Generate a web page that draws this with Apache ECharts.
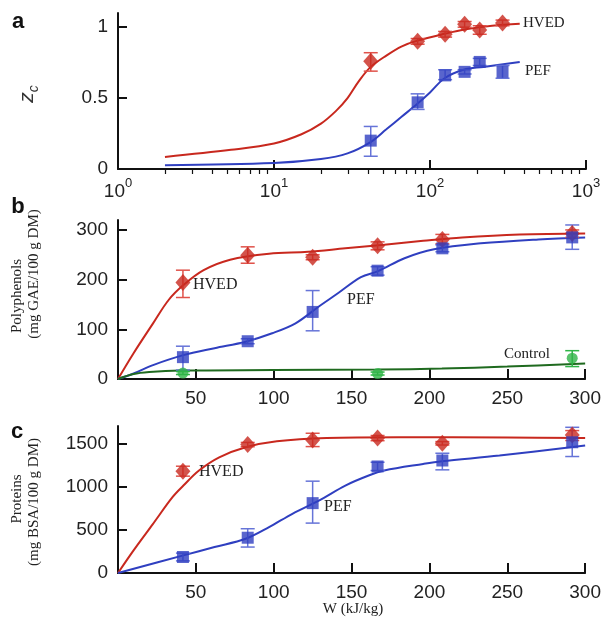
<!DOCTYPE html>
<html>
<head>
<meta charset="utf-8">
<script src="https://cdn.jsdelivr.net/npm/echarts@6/dist/echarts.min.js"></script>
<style>
  html, body { margin: 0; padding: 0; background: #fff; }
  #chart { width: 604px; height: 621px; }
</style>
</head>
<body>
<div id="chart"></div>
<script>
// energy input W (kJ/kg) of the measured points
var W = [41.7, 83.3, 125, 166.7, 208.3, 291.7]
var ctrlW = [41.7, 166.7, 291.7]

// panel a: z_c
var hvedA = [0.76, 0.90, 0.95, 1.02, 0.98, 1.03]
var hvedAErr = [[0.69, 0.82], [0.88, 0.92], [0.93, 0.97], [1.00, 1.04], [0.95, 1.01], [1.01, 1.05]]
var pefA = [0.20, 0.47, 0.66, 0.685, 0.755, 0.685]
var pefAErr = [[0.09, 0.30], [0.42, 0.53], [0.63, 0.70], [0.67, 0.70], [0.73, 0.78], [0.64, 0.73]]
var hvedACurve = [[2, 0.085], [5.3, 0.135], [10, 0.18], [15, 0.245], [20, 0.32], [25, 0.41], [29.6, 0.50], [35, 0.62], [41.7, 0.72], [52.5, 0.80], [66, 0.865], [83, 0.905], [124, 0.953], [170, 0.985], [250, 1.01], [376, 1.025]]
var pefACurve = [[2, 0.026], [10, 0.042], [20, 0.07], [29.6, 0.11], [41.6, 0.19], [52.5, 0.28], [66, 0.37], [83, 0.46], [100, 0.54], [124, 0.64], [164, 0.70], [220, 0.72], [376, 0.755]]

// panel b: polyphenols
var hvedB = [194, 249, 245, 268, 281, 293]
var hvedBErr = [[164, 219], [233, 266], [240, 250], [260, 276], [272, 291], [285, 300]]
var pefB = [44, 76, 135, 218, 263, 285]
var pefBErr = [[18, 66], [71, 81], [97, 178], [209, 226], [256, 270], [261, 310]]
var ctrlB = [12, 11, 42]
var ctrlBErr = [[9, 15], [8, 14], [25, 57]]
var hvedBCurve = [[0, 0], [10, 52], [22.5, 112], [32.5, 159], [42, 189], [55, 219], [72, 240], [97, 252], [122, 256], [146, 263], [171, 270], [196, 278], [221, 285], [258, 291], [300, 293]]
var pefBCurve = [[0, 0], [10, 11], [22.5, 28], [42, 48], [62, 62], [82, 75], [99, 92], [114, 112], [129, 146], [141, 172], [156, 205], [167, 217], [184, 243], [203, 261], [233, 273], [270, 281], [300, 285]]
var ctrlBCurve = [[0, 0], [10, 10], [20, 14], [40, 17], [100, 18], [167, 19], [208, 21], [250, 25], [300, 31]]

// panel c: proteins
var hvedC = [1177, 1485, 1539, 1562, 1500, 1597]
var hvedCErr = [[1120, 1235], [1460, 1510], [1462, 1616], [1530, 1590], [1480, 1520], [1532, 1647]]
var pefC = [185, 408, 808, 1232, 1301, 1512]
var pefCErr = [[140, 230], [300, 512], [577, 1062], [1185, 1281], [1193, 1385], [1347, 1685]]
var hvedCCurve = [[0, 0], [10, 262], [22.5, 569], [35, 877], [42, 1011], [52, 1185], [65, 1338], [82, 1454], [102, 1523], [134, 1561], [180, 1570], [250, 1566], [300, 1561]]
var pefCCurve = [[0, 0], [42, 204], [62, 300], [82, 396], [97, 530], [112, 685], [129, 838], [146, 1011], [161, 1127], [171, 1185], [196, 1261], [208, 1292], [245, 1358], [300, 1475]]

// tick values
var logMajor = [1, 10, 100, 1000]
var logMinor = [2, 3, 4, 5, 6, 7, 8, 9, 20, 30, 40, 50, 60, 70, 80, 90, 200, 300, 400, 500, 600, 700, 800, 900]
var yTicksA = [0, 0.5, 1]
var yTicksB = [0, 100, 200, 300]
var yTicksC = [0, 500, 1000, 1500]
var xTicksW = [50, 100, 150, 200, 250, 300]

var RED = '#c8281e'
var RED_ERR = '#e0524a'
var BLUE = '#2f3fc0'
var BLUE_ERR = '#6674d8'
var GREEN_LINE = '#1f6a1f'
var GREEN = '#2fb447'
var SANS = '"Liberation Sans", Arial, sans-serif'
var SERIF = '"Liberation Serif", "Times New Roman", serif'

function pts(xs, ys) {
  return xs.map(function (x, i) { return [x, ys[i]] })
}
function errs(xs, e) {
  return xs.map(function (x, i) { return [x, e[i][0], e[i][1]] })
}

function errorBar(color) {
  return function (params, api) {
    var top = api.coord([api.value(0), api.value(2)])
    var bot = api.coord([api.value(0), api.value(1)])
    var w = 7
    var st = { stroke: color, lineWidth: 1.5 }
    return {
      type: 'group',
      children: [
        { type: 'line', shape: { x1: top[0], y1: top[1], x2: bot[0], y2: bot[1] }, style: st },
        { type: 'line', shape: { x1: top[0] - w, y1: top[1], x2: top[0] + w, y2: top[1] }, style: st },
        { type: 'line', shape: { x1: bot[0] - w, y1: bot[1], x2: bot[0] + w, y2: bot[1] }, style: st }
      ]
    }
  }
}

function curve(xi, yi, data, color) {
  return {
    type: 'line', xAxisIndex: xi, yAxisIndex: yi, data: data, smooth: 0.35,
    showSymbol: false, silent: true, lineStyle: { color: color, width: 2 }, z: 2
  }
}
function marks(xi, yi, data, symbol, size, color) {
  return {
    type: 'scatter', xAxisIndex: xi, yAxisIndex: yi, data: data,
    symbol: symbol, symbolSize: size, itemStyle: { color: color }, z: 4
  }
}
function bars(xi, yi, data, color) {
  return {
    type: 'custom', xAxisIndex: xi, yAxisIndex: yi, data: data,
    renderItem: errorBar(color), encode: { x: 0, y: [1, 2] }, z: 3
  }
}

var axisLine = { show: true, onZero: false, lineStyle: { color: '#111', width: 2 } }
var tickLabel = { color: '#222', fontFamily: SANS, fontSize: 19 }

function yAxis(gi, max, ticks) {
  return {
    type: 'value', gridIndex: gi, min: 0, max: max,
    axisLine: axisLine,
    axisTick: { show: true, inside: true, length: 9, customValues: ticks, lineStyle: { color: '#111', width: 2 } },
    axisLabel: Object.assign({ customValues: ticks, margin: 10, formatter: function (v) { return String(v) } }, tickLabel),
    splitLine: { show: false }
  }
}
function wAxis(gi) {
  return {
    type: 'value', gridIndex: gi, min: 0, max: 300,
    axisLine: axisLine,
    axisTick: { show: true, inside: true, length: 10, customValues: xTicksW, lineStyle: { color: '#111', width: 2 } },
    axisLabel: Object.assign({ customValues: xTicksW, margin: 10, formatter: function (v) { return String(v) } }, tickLabel),
    splitLine: { show: false }
  }
}

var chart = echarts.init(document.getElementById('chart'), null, { renderer: 'canvas' })

chart.setOption({
  backgroundColor: '#fff',
  animation: false,
  grid: [
    { left: 118, right: 18, top: 13, bottom: 452 },
    { left: 118, right: 17, top: 220, bottom: 242 },
    { left: 118, right: 17, top: 426, bottom: 48 }
  ],
  xAxis: [
    {
      type: 'log', gridIndex: 0, min: 1, max: 1000, logBase: 10,
      axisLine: axisLine,
      axisTick: { show: true, inside: true, length: 9, customValues: logMajor, lineStyle: { color: '#111', width: 2 } },
      axisLabel: {
        customValues: logMajor, margin: 8,
        formatter: function (v) {
          return '{b|10}{s|' + Math.round(Math.log10(v)) + '}'
        },
        rich: {
          b: { fontFamily: SANS, fontSize: 19, color: '#222', lineHeight: 24, verticalAlign: 'bottom' },
          s: { fontFamily: SANS, fontSize: 13, color: '#222', lineHeight: 24, verticalAlign: 'top', padding: [0, 0, 10, 0] }
        }
      },
      splitLine: { show: false }
    },
    {
      type: 'log', gridIndex: 0, min: 1, max: 1000, logBase: 10,
      axisLine: { show: false },
      axisTick: { show: true, inside: true, length: 5, customValues: logMinor, lineStyle: { color: '#111', width: 1.2 } },
      axisLabel: { show: false },
      splitLine: { show: false }
    },
    wAxis(1),
    wAxis(2)
  ],
  yAxis: [
    yAxis(0, 1.1, yTicksA),
    yAxis(1, 320, yTicksB),
    yAxis(2, 1700, yTicksC)
  ],
  series: [
    curve(0, 0, hvedACurve, RED),
    curve(0, 0, pefACurve, BLUE),
    bars(0, 0, errs(W, hvedAErr), RED_ERR),
    bars(0, 0, errs(W, pefAErr), BLUE_ERR),
    marks(0, 0, pts(W, hvedA), 'diamond', [15, 17], RED),
    marks(0, 0, pts(W, pefA), 'rect', 12, BLUE),

    curve(2, 1, hvedBCurve, RED),
    curve(2, 1, pefBCurve, BLUE),
    curve(2, 1, ctrlBCurve, GREEN_LINE),
    bars(2, 1, errs(W, hvedBErr), RED_ERR),
    bars(2, 1, errs(W, pefBErr), BLUE_ERR),
    bars(2, 1, errs(ctrlW, ctrlBErr), GREEN),
    marks(2, 1, pts(W, hvedB), 'diamond', [15, 17], RED),
    marks(2, 1, pts(W, pefB), 'rect', 12, BLUE),
    marks(2, 1, pts(ctrlW, ctrlB), 'circle', 11, GREEN),

    curve(3, 2, hvedCCurve, RED),
    curve(3, 2, pefCCurve, BLUE),
    bars(3, 2, errs(W, hvedCErr), RED_ERR),
    bars(3, 2, errs(W, pefCErr), BLUE_ERR),
    marks(3, 2, pts(W, hvedC), 'diamond', [15, 17], RED),
    marks(3, 2, pts(W, pefC), 'rect', 12, BLUE)
  ],
  graphic: [
    // panel letters
    { type: 'text', x: 18, y: 22, style: { text: 'a', font: 'bold 22px ' + SANS, fill: '#111', align: 'center', verticalAlign: 'middle' } },
    { type: 'text', x: 18, y: 207, style: { text: 'b', font: 'bold 22px ' + SANS, fill: '#111', align: 'center', verticalAlign: 'middle' } },
    { type: 'text', x: 17, y: 432, style: { text: 'c', font: 'bold 22px ' + SANS, fill: '#111', align: 'center', verticalAlign: 'middle' } },
    // y titles
    {
      type: 'text', x: 27, y: 94, rotation: Math.PI / 2,
      style: {
        text: '{z|z}{c|c}', align: 'center', verticalAlign: 'middle',
        rich: {
          z: { font: 'italic 21px ' + SANS, fill: '#333', verticalAlign: 'bottom', lineHeight: 22 },
          c: { font: 'italic 14px ' + SANS, fill: '#333', verticalAlign: 'bottom', lineHeight: 22, padding: [0, 0, -3, 0] }
        }
      }
    },
    { type: 'text', x: 17, y: 296, rotation: Math.PI / 2, style: { text: 'Polyphenols', font: '15px ' + SERIF, fill: '#222', align: 'center', verticalAlign: 'middle' } },
    { type: 'text', x: 34, y: 274, rotation: Math.PI / 2, style: { text: '(mg GAE/100 g DM)', font: '15px ' + SERIF, fill: '#222', align: 'center', verticalAlign: 'middle' } },
    { type: 'text', x: 17, y: 499, rotation: Math.PI / 2, style: { text: 'Proteins', font: '15px ' + SERIF, fill: '#222', align: 'center', verticalAlign: 'middle' } },
    { type: 'text', x: 34, y: 502, rotation: Math.PI / 2, style: { text: '(mg BSA/100 g DM)', font: '15px ' + SERIF, fill: '#222', align: 'center', verticalAlign: 'middle' } },
    // x title
    { type: 'text', x: 353, y: 609, style: { text: 'W (kJ/kg)', font: '15px ' + SERIF, fill: '#222', align: 'center', verticalAlign: 'middle' } },
    // curve annotations
    { type: 'text', x: 523, y: 23, style: { text: 'HVED', font: '15px ' + SERIF, fill: '#222', align: 'left', verticalAlign: 'middle' } },
    { type: 'text', x: 525, y: 71, style: { text: 'PEF', font: '15px ' + SERIF, fill: '#222', align: 'left', verticalAlign: 'middle' } },
    { type: 'text', x: 193, y: 285, style: { text: 'HVED', font: '16px ' + SERIF, fill: '#222', align: 'left', verticalAlign: 'middle' } },
    { type: 'text', x: 347, y: 300, style: { text: 'PEF', font: '16px ' + SERIF, fill: '#222', align: 'left', verticalAlign: 'middle' } },
    { type: 'text', x: 504, y: 354, style: { text: 'Control', font: '15px ' + SERIF, fill: '#222', align: 'left', verticalAlign: 'middle' } },
    { type: 'text', x: 199, y: 472, style: { text: 'HVED', font: '16px ' + SERIF, fill: '#222', align: 'left', verticalAlign: 'middle' } },
    { type: 'text', x: 324, y: 507, style: { text: 'PEF', font: '16px ' + SERIF, fill: '#222', align: 'left', verticalAlign: 'middle' } }
  ]
})
</script>
</body>
</html>
